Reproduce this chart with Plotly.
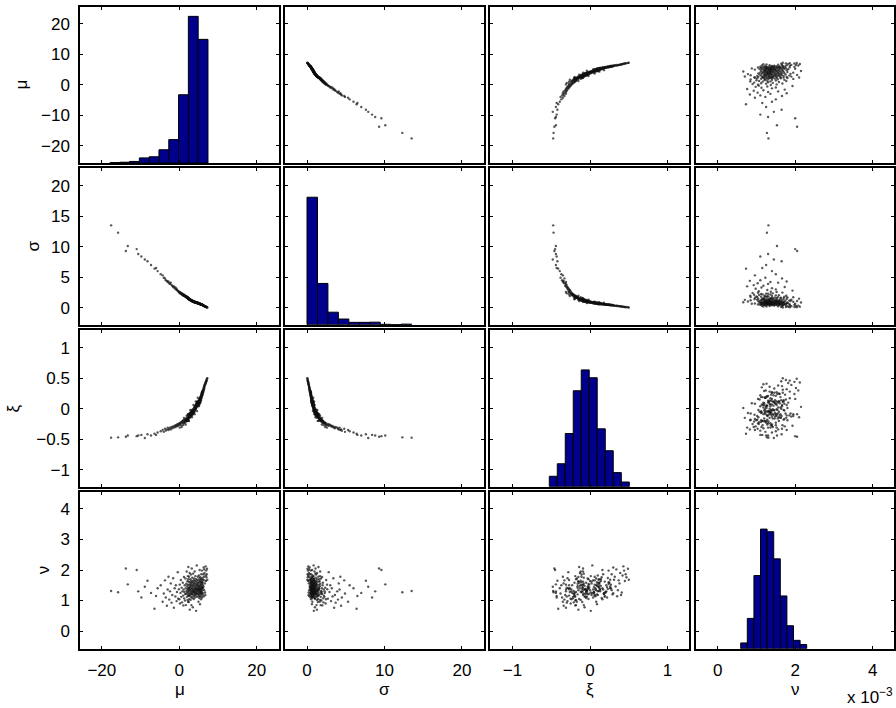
import plotly.graph_objects as go

# Posterior samples of the four model parameters
mu = [
    -17.6, -15.8, -13.8, -13.3, -11.0, -10.6, -9.8, -8.9, -8.2, -7.3, -6.4, -6.0, -5.6,
    -4.8, -4.3, -4.0, -3.7, -3.5, -3.2, -3.0, -2.8,
    -2.6, -2.4, -2.2, -2.0, -1.8, -1.6, -1.4, -1.2, -1.0, -0.9, -0.7, -0.6, -0.4, -0.3,
    -0.1, 0.0, 0.1, 0.2, 0.3, 0.4, 0.5, 0.6, 0.7, 0.8, 0.9, 1.0, 1.05, 1.1, 1.2, 1.25,
    1.3, 1.4, 1.45, 1.5, 1.6, 1.65, 1.7, 1.75, 1.8, 1.85, 1.9, 1.95, 2.0, 2.05, 2.1,
    2.12, 2.15, 2.2, 2.22, 2.25, 2.28, 2.3, 2.31, 2.32, 2.33, 2.34,
    2.36, 2.40, 2.43, 2.47, 2.50, 2.52, 2.55, 2.58, 2.61, 2.63, 2.66, 2.69, 2.71, 2.74,
    2.77, 2.80, 2.82, 2.85, 2.88, 2.90, 2.93, 2.96, 2.99, 3.01, 3.04, 3.07, 3.10, 3.12,
    3.15, 3.18, 3.21, 3.23, 3.26, 3.29, 3.32, 3.34, 3.37, 3.40, 3.43, 3.45, 3.48, 3.51,
    3.54, 3.56, 3.59, 3.62, 3.65, 3.67, 3.70, 3.73, 3.76, 3.78, 3.81, 3.84, 3.87, 3.89,
    3.92, 3.95, 3.98, 4.00, 4.03, 4.06, 4.09, 4.11, 4.14, 4.17, 4.20, 4.22, 4.25, 4.28,
    4.31, 4.33, 4.36, 4.39, 4.42, 4.44, 4.47, 4.50, 4.53, 4.55, 4.58, 4.61, 4.64, 4.66,
    4.69, 4.72, 4.75, 4.77, 4.80, 4.84,
    4.88, 4.90, 4.92, 4.95, 4.97, 5.00, 5.02, 5.04, 5.06, 5.09, 5.11, 5.13, 5.16, 5.18,
    5.20, 5.23, 5.25, 5.27, 5.30, 5.32, 5.34, 5.37, 5.39, 5.41, 5.43, 5.45, 5.47, 5.49,
    5.50, 5.52,
    5.55, 5.57, 5.60, 5.62, 5.64, 5.66, 5.69, 5.71, 5.73, 5.75, 5.78, 5.80, 5.82, 5.85,
    5.87, 5.89, 5.91, 5.93, 5.95, 5.97, 5.99, 6.01,
    6.05, 6.09, 6.13, 6.17, 6.21, 6.25, 6.29, 6.33, 6.37, 6.41, 6.45, 6.48, 6.50,
    6.58, 6.65, 6.72, 6.78, 6.84, 6.90, 6.95, 7.00,
    7.08, 7.15, 7.22,
]
sigma = [
    13.5, 12.3, 9.3, 10.1, 9.6, 8.8, 8.4, 7.9, 7.6, 7.0, 6.4, 6.5, 6.0,
    5.5, 5.3, 4.9, 4.8, 4.5, 4.4, 4.2, 4.3,
    4.0, 3.9, 4.1, 3.7, 3.6, 3.4, 3.5, 3.2, 3.3, 3.0, 3.1, 2.9, 2.8, 2.7,
    2.62, 2.45, 2.58, 2.40, 2.30, 2.47, 2.25, 2.35, 2.12, 2.28, 2.05, 2.18, 1.98, 2.15,
    1.95, 2.08, 1.90, 2.02, 1.85, 1.96, 1.80, 1.92, 1.76, 1.86, 1.72, 1.83, 1.70, 1.78,
    1.66, 1.75, 1.62, 1.70, 1.58, 1.68, 1.60, 1.55, 1.64, 1.52, 1.58, 1.50, 1.56, 1.48,
    1.45, 1.52, 1.40, 1.48, 1.38, 1.46, 1.35, 1.43, 1.32, 1.41, 1.30, 1.38, 1.28, 1.36,
    1.26, 1.34, 1.24, 1.32, 1.22, 1.30, 1.20, 1.28, 1.18, 1.26, 1.16, 1.24, 1.14, 1.22,
    1.12, 1.20, 1.10, 1.18, 1.09, 1.16, 1.07, 1.15, 1.05, 1.13, 1.04, 1.11, 1.02, 1.10,
    1.00, 1.08, 0.99, 1.06, 0.97, 1.05, 0.96, 1.03, 0.94, 1.02, 0.93, 1.00, 0.91, 0.99,
    0.90, 0.97, 0.88, 0.96, 0.87, 0.95, 0.86, 0.93, 0.85, 0.92, 0.83, 0.91, 0.82, 0.90,
    0.81, 0.88, 0.80, 0.87, 0.79, 0.86, 0.78, 0.85, 0.77, 0.84, 0.76, 0.83, 0.75, 0.82,
    0.74, 0.81, 0.73, 0.80, 0.72, 0.78,
    0.76, 0.70, 0.74, 0.69, 0.73, 0.68, 0.72, 0.66, 0.71, 0.65, 0.70, 0.64, 0.69, 0.63,
    0.67, 0.62, 0.66, 0.61, 0.65, 0.60, 0.64, 0.59, 0.63, 0.58, 0.62, 0.57, 0.61, 0.56,
    0.60, 0.55,
    0.58, 0.54, 0.57, 0.53, 0.56, 0.52, 0.55, 0.50, 0.54, 0.49, 0.52, 0.48, 0.51, 0.47,
    0.50, 0.46, 0.49, 0.45, 0.47, 0.44, 0.46, 0.43,
    0.42, 0.40, 0.39, 0.37, 0.36, 0.34, 0.33, 0.31, 0.30, 0.28, 0.27, 0.26, 0.25,
    0.23, 0.21, 0.19, 0.17, 0.15, 0.13, 0.12, 0.10,
    0.08, 0.06, 0.04,
]
xi = [
    -0.475, -0.47, -0.46, -0.44, -0.45, -0.44, -0.43, -0.48, -0.42, -0.44, -0.41, -0.43, -0.39,
    -0.37, -0.35, -0.38, -0.33, -0.36, -0.34, -0.31, -0.35,
    -0.33, -0.31, -0.34, -0.30, -0.32, -0.29, -0.31, -0.28, -0.30, -0.27, -0.29, -0.26, -0.28, -0.25,
    -0.27, -0.24, -0.31, -0.25, -0.23, -0.27, -0.22, -0.30, -0.21, -0.24, -0.20, -0.27, -0.19, -0.24,
    -0.15, -0.22, -0.18, -0.23, -0.19, -0.21, -0.17, -0.26, -0.18, -0.20, -0.16, -0.21, -0.12, -0.19,
    -0.16, -0.20, -0.15, -0.18, -0.10, -0.19, -0.16, -0.09, -0.17, -0.15, -0.18, -0.20, -0.16, -0.14,
    -0.12, -0.15, -0.10, -0.13, -0.20, -0.11, -0.09, -0.14, -0.12, -0.08, -0.13, -0.10, -0.15, -0.07,
    -0.11, -0.09, -0.13, -0.02, -0.10, -0.12, -0.08, -0.05, -0.11, -0.07, -0.09, -0.12, -0.04, -0.08,
    -0.10, -0.06, -0.09, -0.03, -0.14, -0.11, -0.05, -0.08, -0.02, -0.06, -0.09, -0.04, -0.07, -0.01,
    -0.05, -0.08, -0.03, -0.06, 0.06, -0.04, -0.07, -0.02, -0.05, 0.01, -0.03, -0.06, 0.02, -0.02,
    -0.04, -0.09, -0.01, -0.03, 0.04, 0.00, -0.02, 0.05, 0.01, -0.01, 0.06, 0.02, 0.00, 0.12,
    0.03, 0.01, 0.08, 0.04, 0.02, 0.09, 0.05, 0.03, 0.10, 0.06, -0.04, 0.11, 0.07, 0.05,
    0.12, 0.08, 0.06, 0.18, 0.09, 0.07,
    0.10, 0.06, 0.12, 0.08, 0.04, 0.11, 0.14, 0.07, 0.10, 0.13, 0.05, 0.09, 0.15, 0.11,
    0.08, 0.13, 0.16, 0.10, 0.12, 0.17, 0.09, 0.14, 0.18, 0.11, 0.15, 0.13, 0.19, 0.12,
    0.16, 0.20,
    0.14, 0.18, 0.21, 0.16, 0.19, 0.23, 0.17, 0.21, 0.24, 0.19, 0.22, 0.26, 0.20, 0.24,
    0.27, 0.22, 0.25, 0.28, 0.23, 0.26, 0.29, 0.24,
    0.27, 0.30, 0.26, 0.31, 0.28, 0.33, 0.30, 0.35, 0.32, 0.36, 0.34, 0.37, 0.39,
    0.38, 0.41, 0.40, 0.43, 0.42, 0.45, 0.44, 0.47,
    0.46, 0.49, 0.50,
]
nu_e3 = [  # in units of 1e-3
    1.31, 1.27, 2.05, 1.53, 2.00, 1.30, 1.10, 1.45, 1.65, 1.25, 0.73, 1.15, 1.40,
    1.50, 0.96, 1.23, 1.66, 1.10, 0.83, 1.36, 1.78,
    1.03, 1.30, 1.56, 0.93, 1.18, 1.73, 0.76, 1.40, 1.13, 1.50, 0.98, 1.28, 1.93, 1.06,
    1.37, 1.04, 1.52, 0.90, 1.25, 1.67, 1.12, 1.42, 0.94, 1.30, 1.58, 1.16, 0.84, 1.36,
    1.77, 1.07, 1.28, 1.50, 1.00, 1.21, 1.72, 1.40, 0.85, 1.22, 1.55, 1.31, 1.95, 1.12,
    1.47, 1.26, 1.63, 1.02, 1.38, 1.80, 1.20, 1.52, 0.96, 1.34, 1.70, 1.16, 1.42, 2.10,
    1.28, 1.62, 0.95, 1.40, 1.15, 1.78, 1.33, 1.05, 1.52, 1.22, 1.90, 1.44, 0.70, 1.36,
    1.60, 1.18, 1.48, 1.70, 1.26, 1.02, 1.55, 1.32, 1.85, 1.12, 1.42, 1.65, 1.24, 0.85,
    1.50, 1.38, 2.05, 1.20, 1.58, 1.30, 1.08, 1.75, 1.45, 1.22, 1.62, 1.35, 0.78, 1.52,
    1.28, 1.88, 1.40, 1.14, 1.66, 1.32, 1.48, 1.05, 1.58, 1.26, 1.72, 1.36, 1.18, 1.54,
    1.30, 1.95, 1.22, 1.46, 1.10, 1.64, 1.38, 1.28, 1.80, 1.42, 1.16, 1.56, 1.34, 1.70,
    1.24, 0.66, 1.50, 1.36, 1.62, 1.20, 1.44, 2.15, 1.30, 1.52, 1.12, 1.68, 1.40, 1.26,
    1.58, 1.34, 1.78, 1.22, 1.48, 1.36,
    1.55, 1.20, 1.42, 0.96, 1.66, 1.32, 1.48, 1.14, 1.82, 1.38, 1.26, 1.60, 1.08, 1.44,
    1.72, 1.30, 2.00, 1.18, 1.52, 1.36, 0.88, 1.64, 1.24, 1.46, 1.76, 1.34, 1.12, 1.58,
    1.40, 1.28,
    1.70, 1.22, 1.50, 1.04, 1.62, 1.38, 1.86, 1.30, 1.54, 1.16, 1.44, 1.68, 1.26, 1.98,
    1.40, 1.10, 1.58, 1.34, 1.74, 1.46, 1.20, 1.60,
    1.52, 1.24, 1.40, 1.68, 1.86, 1.46, 2.08, 1.14, 1.78, 1.34, 2.02, 1.66, 1.90,
    1.56, 1.26, 1.18, 2.12, 1.82, 1.64, 1.98, 1.76,
    1.86, 2.04, 1.68,
]
assert len(mu) == len(sigma) == len(xi) == len(nu_e3), (len(mu), len(sigma), len(xi), len(nu_e3))
nu = [v * 1e-3 for v in nu_e3]

# Marginal histograms (10 bins each): bin edges and counts
mu_edges = [-17.9, -15.37, -12.84, -10.31, -7.78, -5.25, -2.72, -0.19, 2.34, 4.87, 7.4]
mu_counts = [1, 2, 4, 13, 16, 34, 60, 175, 376, 317]
sigma_edges = [0.0, 1.35, 2.7, 4.05, 5.4, 6.75, 8.1, 9.45, 10.8, 12.15, 13.5]
sigma_counts = [652, 211, 64, 29, 12, 12, 13, 2, 1, 3]
xi_edges = [-0.525, -0.422, -0.319, -0.216, -0.113, -0.010, 0.093, 0.197, 0.300, 0.404, 0.507]
xi_counts = [20, 44, 102, 184, 224, 209, 111, 69, 27, 9]
nu_edges_e3 = [0.594, 0.764, 0.935, 1.105, 1.275, 1.446, 1.616, 1.786, 1.956, 2.127, 2.297]
nu_counts = [11, 58, 140, 229, 224, 172, 101, 44, 16, 8]

labels = ["μ", "σ", "ξ", "ν"]
x_ticks = [[-20, 0, 20], [0, 10, 20], [-1, 0, 1], [0, 0.002, 0.004]]
x_ticktext = [["−20", "0", "20"], ["0", "10", "20"], ["−1", "0", "1"], ["0", "2", "4"]]
y_ticks = [[-20, -10, 0, 10, 20], [0, 5, 10, 15, 20], [-1, -0.5, 0, 0.5, 1],
           [0, 0.001, 0.002, 0.003, 0.004]]
y_ticktext = [["−20", "−10", "0", "10", "20"], ["0", "5", "10", "15", "20"],
              ["−1", "−0.5", "0", "0.5", "1"], ["0", "1", "2", "3", "4"]]

samples = [mu, sigma, xi, nu]
hists = [
    (mu_edges, mu_counts, 400),
    (sigma_edges, sigma_counts, 800),
    (xi_edges, xi_counts, 300),
    ([e * 1e-3 for e in nu_edges_e3], nu_counts, 300),
]

W, H = 896, 708
# axis limits per parameter, as a column (x) and as a row (y)
x_ranges = [[-25.63, 25.73], [-2.84, 22.84], [-1.290, 1.277], [-0.56e-3, 4.55e-3]]
y_ranges = [[-25.67, 25.48], [-2.79, 22.85], [-1.279, 1.285], [-0.58e-3, 4.557e-3]]
col_px = [(80, 279), (285, 484), (490, 689), (696, 894)]
row_px = [(7, 163), (168.3, 324.7), (330.3, 486.7), (492, 648.7)]

FONT = "Liberation Sans, Arial, Helvetica, sans-serif"

fig = go.Figure()
layout = {}

axis_common = dict(
    ticks="inside", ticklen=3, tickwidth=1, tickcolor="black",
    showline=True, linecolor="black", linewidth=1.5, mirror="ticks",
    showgrid=False, zeroline=False, fixedrange=True,
    tickfont=dict(family=FONT, size=17, color="black"),
)
hidden = dict(visible=False, fixedrange=True, showgrid=False, zeroline=False)


def xdom(c):
    return [col_px[c][0] / W, col_px[c][1] / W]


def ydom(r):
    return [1 - row_px[r][1] / H, 1 - row_px[r][0] / H]


def framed_axes(r, c, xname, yname):
    """Visible boxed axes with inside ticks on all four sides."""
    layout["xaxis" + xname] = dict(
        axis_common, domain=xdom(c), range=x_ranges[c], anchor="y" + yname,
        tickvals=x_ticks[c], ticktext=x_ticktext[c],
        showticklabels=(r == 3), ticklabelstandoff=5,
    )
    layout["yaxis" + yname] = dict(
        axis_common, domain=ydom(r), range=y_ranges[r], anchor="x" + xname,
        tickvals=y_ticks[r], ticktext=y_ticktext[r],
        showticklabels=(c == 0), ticklabelstandoff=5,
    )


for r in range(4):
    for c in range(4):
        k = r * 4 + c + 1
        sfx = "" if k == 1 else str(k)
        xref, yref = "x" + sfx, "y" + sfx
        if r != c:
            framed_axes(r, c, sfx, sfx)
            fig.add_trace(go.Scatter(
                x=samples[c], y=samples[r], mode="markers",
                marker=dict(size=2.4, color="#111111", opacity=0.7, line=dict(width=0)),
                xaxis=xref, yaxis=yref, hoverinfo="skip",
            ))
        else:
            # histogram on hidden count axes
            edges, counts, ymax = hists[r]
            centers = [(a + b) / 2 for a, b in zip(edges[:-1], edges[1:])]
            widths = [b - a for a, b in zip(edges[:-1], edges[1:])]
            layout["xaxis" + sfx] = dict(hidden, domain=xdom(c), range=x_ranges[c], anchor=yref)
            layout["yaxis" + sfx] = dict(hidden, domain=ydom(r), range=[0, ymax], anchor=xref)
            fig.add_trace(go.Bar(
                x=centers, y=counts, width=widths,
                marker=dict(color="#00008C", line=dict(color="black", width=1)),
                xaxis=xref, yaxis=yref, hoverinfo="skip",
            ))
            # box and parameter ticks drawn on top of the bars
            n = str(17 + r)
            framed_axes(r, c, n, n)
            fig.add_trace(go.Scatter(
                x=[None], y=[None], mode="markers", xaxis="x" + n, yaxis="y" + n,
                hoverinfo="skip", showlegend=False,
            ))

annotations = []
y_title_x = [21.5, 33, 13, 43]
for r in range(4):
    annotations.append(dict(
        text=labels[r], xref="paper", yref="paper",
        x=y_title_x[r] / W, y=1 - (row_px[r][0] + row_px[r][1]) / 2 / H,
        xanchor="center", yanchor="middle", textangle=-90, showarrow=False,
        font=dict(family=FONT, size=17, color="black"),
    ))
for c in range(4):
    annotations.append(dict(
        text=labels[c], xref="paper", yref="paper",
        x=(col_px[c][0] + col_px[c][1]) / 2 / W, y=1 - 689 / H,
        xanchor="center", yanchor="middle", showarrow=False,
        font=dict(family=FONT, size=17, color="black"),
    ))
annotations.append(dict(
    text="x 10<sup>−3</sup>", xref="paper", yref="paper",
    x=895 / W, y=1 - 696 / H, xanchor="right", yanchor="middle", showarrow=False,
    font=dict(family=FONT, size=17, color="black"),
))

fig.update_layout(
    **layout,
    annotations=annotations,
    width=W, height=H,
    margin=dict(l=0, r=0, t=0, b=0),
    paper_bgcolor="white", plot_bgcolor="rgba(0,0,0,0)",
    showlegend=False, barmode="overlay",
)

fig.write_html("out.html")
